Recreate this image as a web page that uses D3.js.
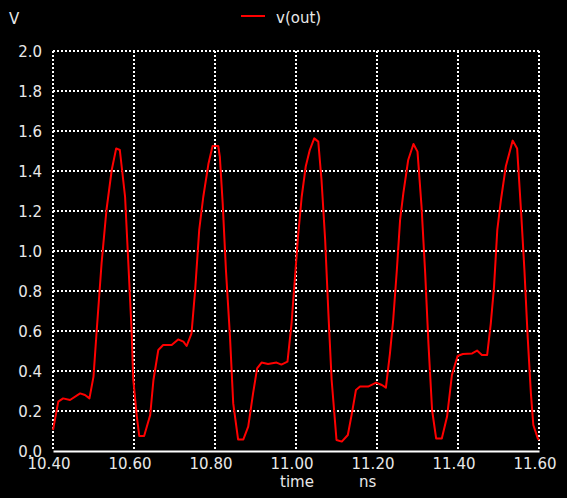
<!DOCTYPE html>
<html>
<head>
<meta charset="utf-8">
<script src="https://cdn.jsdelivr.net/npm/d3@7"></script>
<style>
  body { margin: 0; background: #000; }
  svg { display: block; font-family: "DejaVu Sans", sans-serif; }
</style>
</head>
<body>
<svg id="chart" width="567" height="498"></svg>
<script>
// time in ns, voltage in V
const timeNs = [
  10.400, 10.413, 10.425, 10.442, 10.467, 10.479, 10.490, 10.500, 10.508, 10.520,
  10.532, 10.545, 10.556, 10.565, 10.578, 10.586, 10.594, 10.598, 10.607, 10.613,
  10.625, 10.640, 10.648, 10.660, 10.672, 10.693, 10.709, 10.722, 10.730, 10.742,
  10.751, 10.761, 10.771, 10.784, 10.794, 10.808, 10.812, 10.819, 10.827, 10.837,
  10.845, 10.857, 10.870, 10.882, 10.894, 10.904, 10.915, 10.931, 10.952, 10.964,
  10.979, 10.989, 10.997, 11.005, 11.014, 11.024, 11.034, 11.045, 11.055, 11.063,
  11.072, 11.080, 11.088, 11.100, 11.113, 11.128, 11.138, 11.148, 11.158, 11.178,
  11.198, 11.212, 11.222, 11.232, 11.240, 11.249, 11.257, 11.265, 11.277, 11.290,
  11.300, 11.310, 11.319, 11.327, 11.336, 11.346, 11.360, 11.373, 11.385, 11.399,
  11.412, 11.435, 11.447, 11.459, 11.472, 11.481, 11.489, 11.497, 11.506, 11.518,
  11.535, 11.546, 11.556, 11.564, 11.572, 11.580, 11.586, 11.597, 11.600
];
const vOut = [
  0.105, 0.247, 0.263, 0.255, 0.288, 0.280, 0.263, 0.372, 0.605, 0.940,
  1.205, 1.405, 1.513, 1.505, 1.270, 0.940, 0.605, 0.363, 0.172, 0.075,
  0.075, 0.180, 0.355, 0.505, 0.530, 0.530, 0.558, 0.547, 0.525, 0.588,
  0.805, 1.105, 1.270, 1.438, 1.525, 1.525, 1.470, 1.238, 0.905, 0.572,
  0.238, 0.058, 0.058, 0.122, 0.288, 0.413, 0.442, 0.435, 0.442, 0.432,
  0.447, 0.638, 0.855, 1.072, 1.270, 1.422, 1.505, 1.563, 1.547, 1.355,
  1.055, 0.688, 0.355, 0.055, 0.047, 0.080, 0.188, 0.305, 0.322, 0.322,
  0.342, 0.330, 0.317, 0.488, 0.655, 0.905, 1.155, 1.288, 1.455, 1.535,
  1.497, 1.222, 0.888, 0.538, 0.205, 0.063, 0.063, 0.172, 0.380, 0.475,
  0.485, 0.488, 0.502, 0.480, 0.480, 0.638, 0.822, 1.105, 1.255, 1.422,
  1.552, 1.513, 1.188, 0.905, 0.572, 0.288, 0.130, 0.063, 0.055
];
const xTicks = [10.4, 10.6, 10.8, 11.0, 11.2, 11.4, 11.6];
const yTicks = [0, 0.2, 0.4, 0.6, 0.8, 1.0, 1.2, 1.4, 1.6, 1.8, 2.0];

const svg = d3.select("#chart");
const textColor = "#e8e8e8";
const plotLeft = 53, plotRight = 539, plotTop = 51, plotBottom = 451;

const x = d3.scaleLinear().domain([10.4, 11.6]).range([plotLeft, plotRight]);
const y = d3.scaleLinear().domain([0, 2]).range([plotBottom, plotTop]);

// dotted grid
const grid = svg.append("g")
  .attr("stroke", "#fff")
  .attr("stroke-width", 2)
  .attr("stroke-dasharray", "2,2");

grid.selectAll("line.h")
  .data(yTicks.filter(d => d > 0))
  .enter().append("line")
  .attr("x1", plotLeft).attr("x2", plotRight)
  .attr("y1", d => y(d)).attr("y2", d => y(d));

grid.selectAll("line.v")
  .data(xTicks)
  .enter().append("line")
  .attr("x1", d => x(d)).attr("x2", d => x(d))
  .attr("y1", plotTop).attr("y2", plotBottom);

// bottom axis (solid)
const xAxis = d3.axisBottom(x)
  .tickValues(xTicks)
  .tickSize(0)
  .tickPadding(7)
  .tickFormat(d3.format(".2f"));

const gx = svg.append("g")
  .attr("transform", `translate(0,${plotBottom})`)
  .call(xAxis);
gx.select(".domain").attr("stroke", "#fff").attr("stroke-width", 2);
gx.selectAll("text")
  .attr("fill", textColor)
  .attr("font-size", 15)
  .attr("font-family", "DejaVu Sans")
  .attr("dx", -4.5);

// left tick labels
const yAxis = d3.axisLeft(y)
  .tickValues(yTicks)
  .tickSize(0)
  .tickPadding(11)
  .tickFormat(d3.format(".1f"));

const gy = svg.append("g")
  .attr("transform", `translate(${plotLeft},0)`)
  .call(yAxis);
gy.select(".domain").remove();
gy.selectAll("text")
  .attr("fill", textColor)
  .attr("font-size", 15)
  .attr("font-family", "DejaVu Sans")
  .attr("dy", "0.36em");

// signal trace
const line = d3.line()
  .x((d, i) => x(timeNs[i]))
  .y(d => y(d));

svg.append("path")
  .datum(vOut)
  .attr("fill", "none")
  .attr("stroke", "#ff0000")
  .attr("stroke-width", 2)
  .attr("stroke-linejoin", "round")
  .attr("d", line);

// labels
svg.append("text")
  .attr("x", 9).attr("y", 24)
  .attr("fill", textColor).attr("font-size", 15)
  .text("V");

svg.append("line")
  .attr("x1", 241).attr("x2", 265)
  .attr("y1", 16).attr("y2", 16)
  .attr("stroke", "#ff0000").attr("stroke-width", 2);

svg.append("text")
  .attr("x", 276).attr("y", 23)
  .attr("fill", textColor).attr("font-size", 15)
  .text("v(out)");

svg.append("text")
  .attr("x", 280).attr("y", 487)
  .attr("fill", textColor).attr("font-size", 15)
  .text("time");

svg.append("text")
  .attr("x", 359).attr("y", 487)
  .attr("fill", textColor).attr("font-size", 15)
  .text("ns");
</script>
</body>
</html>
